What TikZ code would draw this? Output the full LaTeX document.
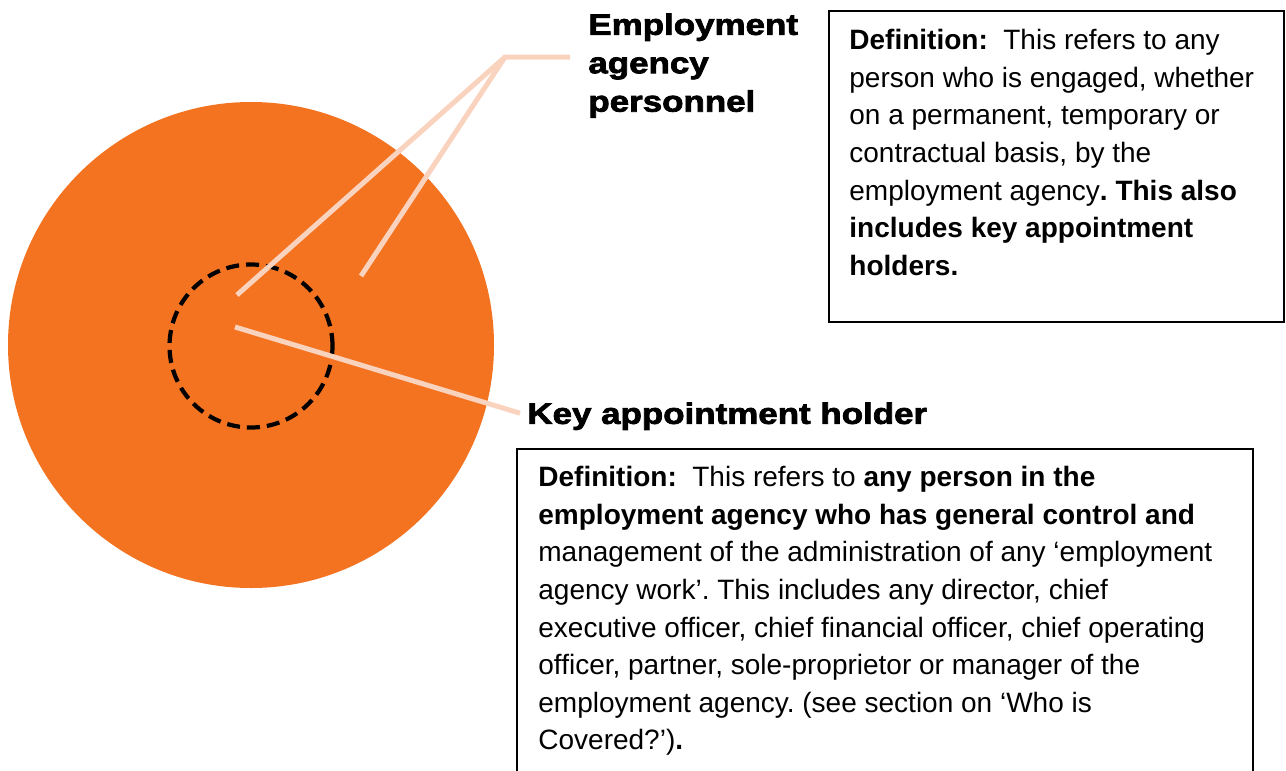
\documentclass[tikz,border=0pt]{standalone}
\usepackage{fontspec}
\setmainfont{Liberation Sans}
\newfontfamily\heavyfont[FakeStretch=1.18,FakeBold=2.5]{Liberation Sans Bold}
\usetikzlibrary{calc}
\definecolor{agencyorange}{HTML}{F37321}
\definecolor{leaderpeach}{HTML}{FAD3BF}
\frenchspacing

\tikzset{
  leader/.style={draw=leaderpeach, line width=2.5pt},
  tagtext/.style={font=\heavyfont\fontsize{14.8}{19.2}\selectfont,
                  align=left, inner sep=0pt, anchor=north west},
  deftext/.style={font=\fontsize{14}{18.8}\selectfont,
                  align=left, inner sep=0pt, anchor=north west},
  defframe/.style={draw, line width=1.2pt}
}

\begin{document}
\begin{tikzpicture}[x=0.5pt, y=-0.5pt]
        \useasboundingbox (0,0) rectangle (1286,771);

        % the two rings
        \node[circle, fill=agencyorange, minimum size=243pt, inner sep=0pt]
             (agency) at (251,345) {};
        \node[circle, draw, dash pattern=on 6.5pt off 3.5pt, line width=2.1pt,
              minimum size=81.5pt, inner sep=0pt] (keyring) at (251,346) {};

        \node[tagtext] (emplabel) at (588,13) {Employment\\agency\\personnel};
        \node[tagtext] (keylabel) at (527,402) {Key appointment holder};

        \coordinate (hub) at (505,57);
        \coordinate (empend) at ($(emplabel.west |- hub)+(-18,0)$);
        \coordinate (innerend) at (237,295);
        \coordinate (outerend) at (361,276);
        \coordinate (keystart) at (235,327);
        \coordinate (keyend) at ($(keylabel.west)+(-7,-3)$);

        \draw[leader] (innerend) -- (hub) -- (empend);
        \draw[leader] (outerend) -- (hub);
        \draw[leader] (keystart) -- (keyend);

        % definitions
        \draw[defframe] (829,11) rectangle (1284,322);
        \node[deftext] (empdef) at (849,29) {\textbf{Definition:}\ \ This refers to any\\
             person who is engaged, whether\\
             on a permanent, temporary or\\
             contractual basis, by the\\
             employment agency\textbf{. This also}\\
             \textbf{includes key appointment}\\
             \textbf{holders.}};

        \draw[defframe] (517,449) rectangle (1253,800);
        \node[deftext] (keydef) at (538,466) {\textbf{Definition:}\ \ This refers to \textbf{any person in the}\\
             \textbf{employment agency who has general control and}\\
             management of the administration of any ‘employment\\
             agency work’. This includes any director, chief\\
             executive officer, chief financial officer, chief operating\\
             officer, partner, sole-proprietor or manager of the\\
             employment agency. (see section on ‘Who is\\
             Covered?’)\textbf{.}};
\end{tikzpicture}
\end{document}
